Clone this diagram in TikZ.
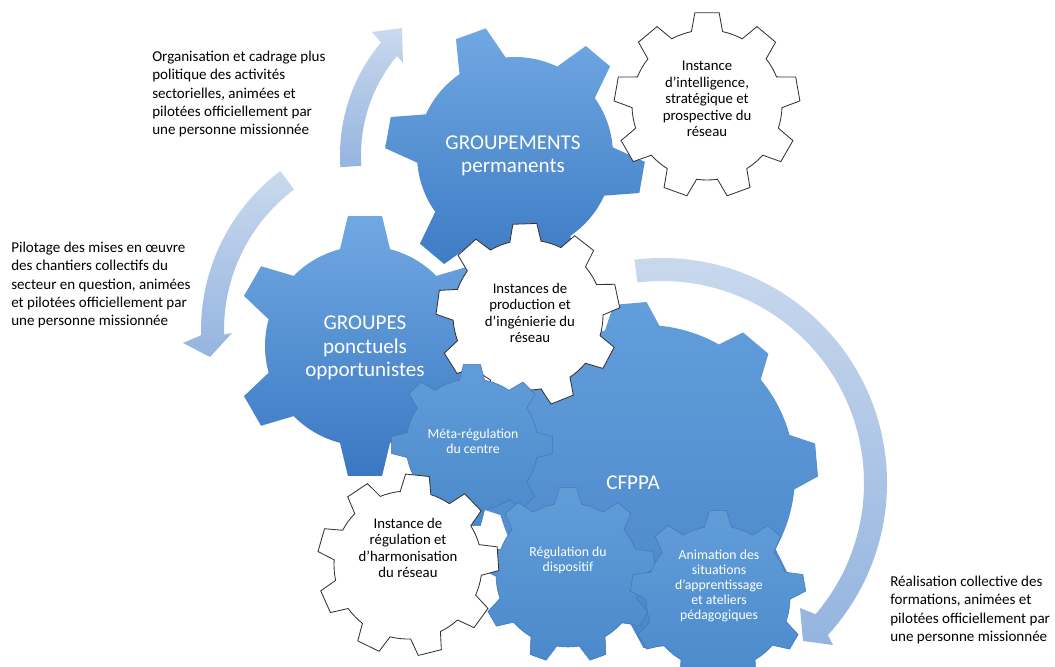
\documentclass[tikz,border=0pt]{standalone}
\usepackage{fontspec}
\setmainfont{Carlito}
\usetikzlibrary{calc}
\definecolor{gearlight}{RGB}{112,168,226}
\definecolor{geardark}{RGB}{58,120,194}
\definecolor{cftop}{RGB}{98,158,218}
\definecolor{cfbot}{RGB}{74,134,202}
\definecolor{cogtop}{RGB}{96,157,216}
\definecolor{cogbot}{RGB}{76,137,203}
\definecolor{cogedge}{RGB}{66,120,186}
\definecolor{arrowlight}{RGB}{202,217,238}
\definecolor{arrowdark}{RGB}{148,180,223}
\tikzset{bigcog/.style={top color=gearlight,bottom color=geardark},cfcog/.style={top color=cftop,bottom color=cfbot},smallcog/.style={top color=cogtop,bottom color=cogbot,draw=cogedge,line width=.4pt},whitecog/.style={fill=white,draw=black!80,line width=.6pt},cyclearrow/.style={top color=arrowlight,bottom color=arrowdark},bigtxt/.style={text=white,align=center,inner sep=0pt,font=\fontsize{15}{16.6}\selectfont},cogtxt/.style={text=white,align=center,inner sep=0pt,font=\fontsize{9.8}{10.7}\selectfont},whitetxt/.style={align=center,inner sep=0pt,font=\fontsize{10.5}{11.8}\selectfont},note/.style={align=left,anchor=west,inner sep=0pt,font=\fontsize{10.7}{13}\selectfont}}
% #1 style, #2 centre, #3 teeth, #4 inner radius, #5 outer radius, #6 rotation, #7 half base, #8 half tip
\newcommand{\cog}[8]{\path[#1,shift={#2}] ({#6-#7}:#4) \foreach \k [evaluate=\k as \a using #6+(\k-1)*360/#3] in {1,...,#3}{ -- ({\a-#8}:#5) -- ({\a+#8}:#5) -- ({\a+#7}:#4) arc[start angle={\a+#7},end angle={\a+360/#3-#7},radius=#4]} -- cycle;}

\begin{document}
\begin{tikzpicture}[x=.25mm,y=.25mm]
\useasboundingbox (0,0) rectangle (1055,-666);
\coordinate (cGroupements) at (515,-155);
\coordinate (cIntel) at (707,-105);
\coordinate (cGroupes) at (365,-346);
\coordinate (cProd) at (528,-315);
\coordinate (cCfppa) at (645,-475);
\coordinate (cMeta) at (472,-445);
\coordinate (cHarmo) at (408,-565);
\coordinate (cDispo) at (568,-575);
\coordinate (cAnim) at (718,-598);
\path[cyclearrow,shift={(515,-155)}] (184:175) arc[start angle=184,end angle=140,radius=175] -- (-143,123) -- (-113,127) -- (-112,92) -- (140:154) arc[start angle=140,end angle=184,radius=154] -- cycle;
\path[cyclearrow,shift={(400,-330)}] (127:199) arc[start angle=127,end angle=181.5,radius=199] -- (-217,-13) -- (-190,-27) -- (-168,-3) -- (181.5:176) arc[start angle=181.5,end angle=127,radius=176] -- cycle;
\path[cyclearrow,shift={(662,-483)}] (97:225) arc[start angle=97,end angle=-42.5,radius=225] -- (171,-162) -- (141,-158) -- (138,-125) -- (-40.5:202) arc[start angle=-40.5,end angle=97,radius=202] -- cycle;
\cog{bigcog}{(cGroupements)}{6}{98}{130}{-10}{14.5}{7}
\cog{whitecog}{(cIntel)}{9}{75}{93}{90}{12}{7.5}
\cog{bigcog}{(cGroupes)}{6}{100}{131}{90}{14.5}{7.5}
\cog{cfcog}{(cCfppa)}{8}{150}{173}{5}{10.5}{5.5}
\cog{whitecog}{(cProd)}{9}{75}{92}{92}{12}{7.5}
\cog{smallcog}{(cMeta)}{8}{66}{81}{90}{11}{6}
\cog{smallcog}{(cDispo)}{9}{72}{88}{90}{11}{5.5}
\cog{smallcog}{(cAnim)}{9}{72}{88}{90}{11}{5.5}
\cog{whitecog}{(cHarmo)}{9}{74}{91}{4}{12}{7.5}
\node[bigtxt] (groupements) at (513,-156) {GROUPEMENTS\\permanents};
\node[bigtxt] (groupes) at (365,-348) {GROUPES\\ponctuels\\opportunistes};
\node[bigtxt] (cfppa) at (633,-483) {CFPPA};
\node[cogtxt] (meta) at (473,-441) {Méta-régulation\\du centre};
\node[cogtxt] (dispo) at (568,-560) {Régulation du\\dispositif};
\node[cogtxt] (anim) at (719,-586) {Animation des\\situations\\d’apprentissage\\et ateliers\\pédagogiques};
\node[whitetxt] (intel) at (707,-99) {Instance\\d’intelligence,\\stratégique et\\prospective du\\réseau};
\node[whitetxt] (prod) at (530,-313) {Instances de\\production et\\d’ingénierie du\\réseau};
\node[whitetxt] (harmo) at (408,-548) {Instance de\\régulation et\\d’harmonisation\\du réseau};
\node[note] (noteGroupements) at (152,-94) {Organisation et cadrage plus\\politique des activités\\sectorielles, animées et\\pilotées officiellement par\\une personne missionnée};
\node[note] (noteGroupes) at (11,-285) {Pilotage des mises en œuvre\\des chantiers collectifs du\\secteur en question, animées\\et pilotées officiellement par\\une personne missionnée};
\node[note] (noteCfppa) at (890,-610) {Réalisation collective des\\formations, animées et\\pilotées officiellement par\\une personne missionnée};
\end{tikzpicture}
\end{document}
